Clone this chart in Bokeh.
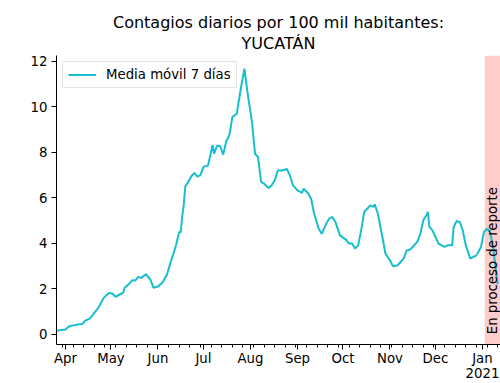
import math
import pandas as pd
from bokeh.plotting import figure
from bokeh.models import Range1d, FixedTicker, BoxAnnotation, Label, Title
from bokeh.embed import file_html
from bokeh.resources import INLINE

# ---- data ----
dates = [
    "2020-03-25", "2020-03-28", "2020-04-01", "2020-04-03", "2020-04-05", "2020-04-07",
    "2020-04-09", "2020-04-12", "2020-04-14", "2020-04-17", "2020-04-19", "2020-04-23",
    "2020-04-26", "2020-04-28", "2020-04-30", "2020-05-02", "2020-05-04", "2020-05-07",
    "2020-05-09", "2020-05-10", "2020-05-13", "2020-05-15", "2020-05-17", "2020-05-19",
    "2020-05-21", "2020-05-24", "2020-05-27", "2020-05-29", "2020-06-01", "2020-06-04",
    "2020-06-07", "2020-06-09", "2020-06-11", "2020-06-13", "2020-06-15", "2020-06-16",
    "2020-06-17", "2020-06-18", "2020-06-19", "2020-06-21", "2020-06-23", "2020-06-25",
    "2020-06-27", "2020-06-29", "2020-07-01", "2020-07-04", "2020-07-05", "2020-07-07",
    "2020-07-08", "2020-07-10", "2020-07-12", "2020-07-14", "2020-07-16", "2020-07-18",
    "2020-07-19", "2020-07-20", "2020-07-23", "2020-07-24", "2020-07-26", "2020-07-28",
    "2020-07-30", "2020-08-02", "2020-08-04", "2020-08-06", "2020-08-08", "2020-08-10",
    "2020-08-13", "2020-08-15", "2020-08-17", "2020-08-19", "2020-08-22", "2020-08-25",
    "2020-08-27", "2020-08-29", "2020-09-01", "2020-09-04", "2020-09-05", "2020-09-08",
    "2020-09-10", "2020-09-12", "2020-09-15", "2020-09-17", "2020-09-20", "2020-09-22",
    "2020-09-24", "2020-09-26", "2020-09-29", "2020-10-01", "2020-10-03", "2020-10-05",
    "2020-10-07", "2020-10-09", "2020-10-11", "2020-10-13", "2020-10-15", "2020-10-17",
    "2020-10-19", "2020-10-21", "2020-10-22", "2020-10-24", "2020-10-27", "2020-10-29",
    "2020-11-01", "2020-11-03", "2020-11-06", "2020-11-08", "2020-11-10", "2020-11-12",
    "2020-11-14", "2020-11-16", "2020-11-19", "2020-11-21", "2020-11-23", "2020-11-25",
    "2020-11-26", "2020-11-27", "2020-11-29", "2020-12-01", "2020-12-03", "2020-12-05",
    "2020-12-07", "2020-12-09", "2020-12-12", "2020-12-13", "2020-12-15", "2020-12-17",
    "2020-12-19", "2020-12-21", "2020-12-24", "2020-12-26", "2020-12-28", "2020-12-31",
    "2021-01-02", "2021-01-04", "2021-01-06", "2021-01-08", "2021-01-11",
]
values = [
    0.15, 0.18, 0.21, 0.33, 0.38, 0.40,
    0.43, 0.45, 0.60, 0.69, 0.85, 1.20,
    1.58, 1.72, 1.82, 1.78, 1.65, 1.76,
    1.82, 2.05, 2.22, 2.38, 2.36, 2.52,
    2.48, 2.64, 2.40, 2.05, 2.10, 2.28,
    2.64, 3.10, 3.50, 3.95, 4.50, 4.48,
    5.20, 5.70, 6.50, 6.70, 6.95, 7.10,
    6.93, 7.00, 7.36, 7.43, 7.72, 8.33,
    7.94, 8.30, 8.27, 7.90, 8.48, 8.75,
    9.11, 9.55, 9.70, 10.14, 10.95, 11.68,
    10.65, 9.33, 7.94, 7.79, 6.70, 6.62,
    6.43, 6.55, 6.77, 7.20, 7.20, 7.27,
    6.99, 6.55, 6.33, 6.22, 6.40, 6.20,
    5.96, 5.30, 4.64, 4.42, 4.87, 5.09,
    5.16, 4.94, 4.35, 4.25, 4.16, 3.99,
    3.99, 3.77, 3.91, 4.57, 5.38, 5.52,
    5.67, 5.60, 5.71, 5.30, 4.28, 3.55,
    3.25, 2.99, 3.03, 3.18, 3.33, 3.69,
    3.72, 3.84, 4.06, 4.42, 5.01, 5.23,
    5.38, 4.72, 4.57, 4.28, 3.99, 3.91,
    3.84, 3.91, 3.91, 4.72, 4.98, 4.94,
    4.57, 3.91, 3.33, 3.40, 3.47, 3.84,
    4.50, 4.64, 4.50, 3.84, 2.20,
]
month_ticks = ["2020-04-01", "2020-05-01", "2020-06-01", "2020-07-01", "2020-08-01",
               "2020-09-01", "2020-10-01", "2020-11-01", "2020-12-01", "2021-01-01"]
month_labels = ["Apr", "May", "Jun", "Jul", "Aug", "Sep", "Oct", "Nov", "Dec", "Jan\n2021"]
y_ticks = [0, 2, 4, 6, 8, 10, 12]
report_start = "2021-01-02 12:00"
series_label = "Media móvil 7 días"
band_label = "En proceso de reporte"
title_lines = ["Contagios diarios por 100 mil habitantes:", "YUCATÁN"]

FONT = "DejaVu Sans"
LINE_COLOR = "#17becf"
Y_MIN, Y_MAX = -0.45, 12.26


def ms(s):
    return pd.Timestamp(s).value / 1e6


x = pd.to_datetime(dates)
minor = [ms(d) for d in pd.date_range("2020-03-30", "2021-01-11", freq="W-MON")]

p = figure(
    width=500, height=383,
    x_axis_type="datetime",
    x_range=Range1d(ms("2020-03-26 01:30"), ms("2021-01-12 21:30")),
    y_range=Range1d(Y_MIN, Y_MAX),
    output_backend="svg", toolbar_location=None, title=None,
    min_border_left=56, min_border_right=0, min_border_top=55, min_border_bottom=38,
)

band = BoxAnnotation(left=ms(report_start), fill_color="red", fill_alpha=0.2,
                     line_color=None, level="underlay")
p.add_layout(band)

p.line(x, values, line_color=LINE_COLOR, line_width=2, legend_label=series_label)

p.add_layout(Label(x=ms(report_start), y=0, text=band_label, angle=math.pi / 2,
                   text_align="left", text_baseline="top", text_font=FONT,
                   text_font_size="13.3px", text_color="black"))

# titles: first added sits nearest the plot
p.add_layout(Title(text=title_lines[1], align="center", text_font=FONT, text_font_size="16px",
                   text_font_style="normal", text_color="black", standoff=5), "above")
p.add_layout(Title(text=title_lines[0], align="center", text_font=FONT, text_font_size="16px",
                   text_font_style="normal", text_color="black", standoff=-4), "above")

p.xaxis.ticker = FixedTicker(ticks=[ms(t) for t in month_ticks], minor_ticks=minor)
p.xaxis.major_label_overrides = {ms(t): lab for t, lab in zip(month_ticks, month_labels)}
p.yaxis.ticker = FixedTicker(ticks=y_ticks, minor_ticks=[])

for ax in (p.xaxis[0], p.yaxis[0]):
    ax.axis_line_color = "black"
    ax.axis_line_width = 1
    ax.major_tick_line_color = "black"
    ax.minor_tick_line_color = "black"
    ax.major_tick_in = 0
    ax.major_tick_out = 5
    ax.minor_tick_in = 0
    ax.minor_tick_out = 3
    ax.major_label_text_font = FONT
    ax.major_label_text_font_size = "13.3px"
    ax.major_label_text_color = "black"
p.xaxis.major_label_standoff = 1
p.xaxis.major_label_text_line_height = 1.0
p.yaxis.major_label_standoff = 4
p.yaxis.minor_tick_line_color = None

p.xgrid.visible = False
p.ygrid.visible = False
p.outline_line_color = None
p.background_fill_color = "white"
p.border_fill_color = "white"

lg = p.legend[0]
lg.location = "top_left"
lg.margin = 6
lg.padding = 5
lg.spacing = 0
lg.glyph_width = 28
lg.glyph_height = 15
lg.label_height = 15
lg.label_standoff = 10
lg.label_text_font = FONT
lg.label_text_font_size = "13.3px"
lg.label_text_color = "black"
lg.border_line_color = "#cccccc"
lg.border_line_width = 1
lg.background_fill_alpha = 0.8

open("out.html", "w").write(file_html(p, INLINE))
